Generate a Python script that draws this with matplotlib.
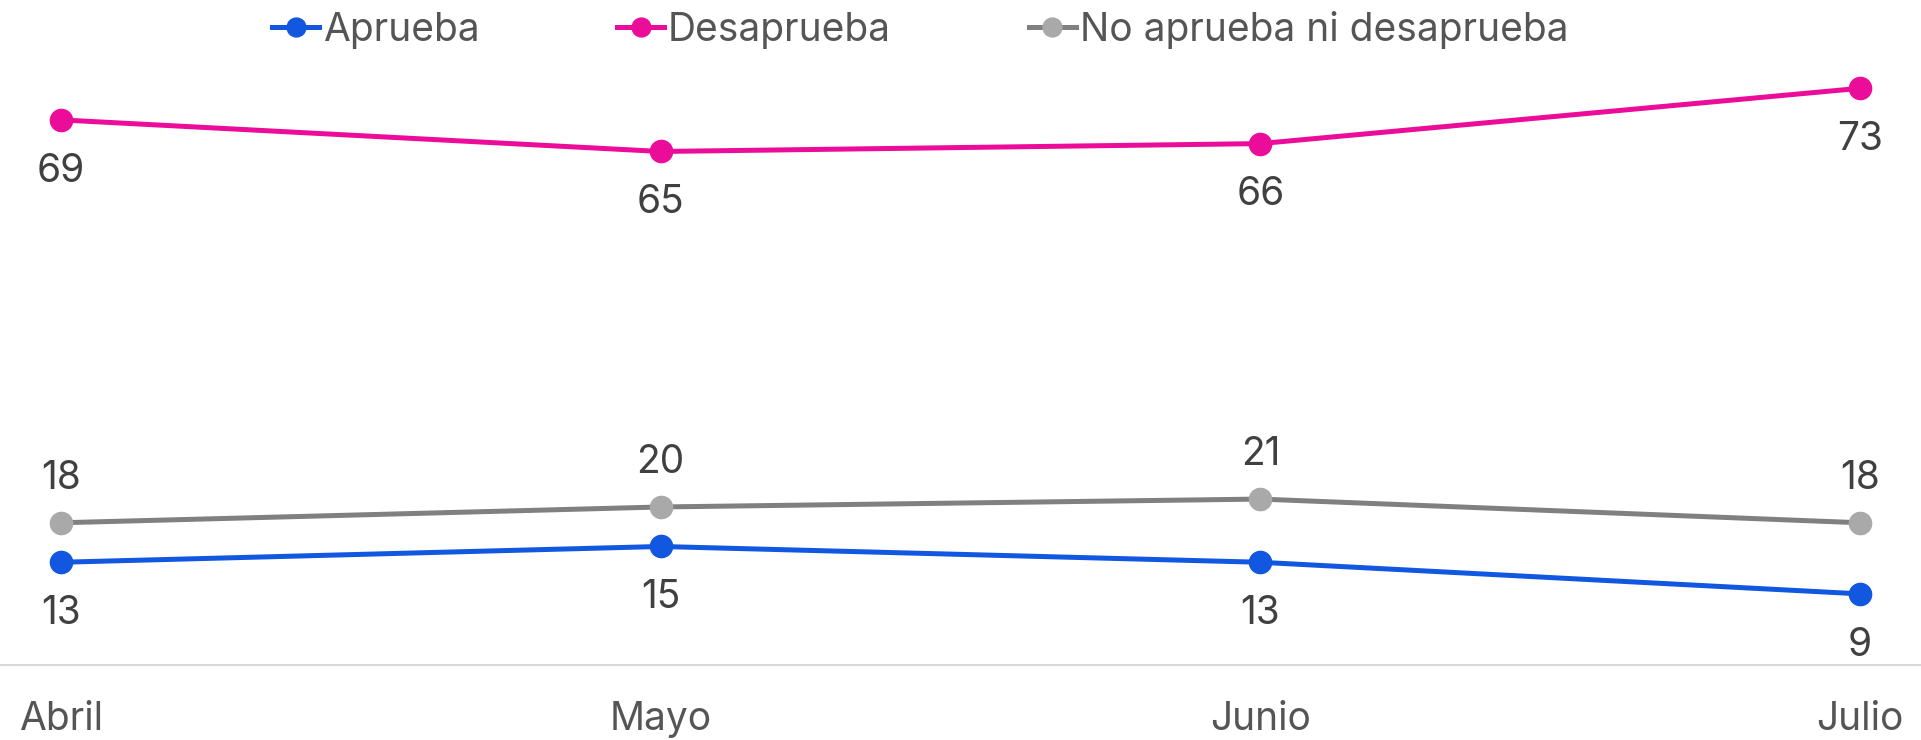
import matplotlib
matplotlib.use('Agg')
import matplotlib.pyplot as plt

meses = ['Abril', 'Mayo', 'Junio', 'Julio']
aprueba = [13, 15, 13, 9]
desaprueba = [69, 65, 66, 73]
neutral = [18, 20, 21, 18]

plt.rcParams['font.family'] = ['Inter', 'DejaVu Sans']

fig = plt.figure(figsize=(19.21, 7.40), dpi=100)
ax = fig.add_axes([0, 0.1014, 1, 0.854])

x = list(range(len(meses)))

# (valores, color linea, color marcador, etiqueta, posicion texto)
series = [
    (aprueba, '#1157E0', '#1157E0', 'Aprueba', 'below'),
    (desaprueba, '#EC0C9A', '#EC0C9A', 'Desaprueba', 'below'),
    (neutral, '#808080', '#A9A9A9', 'No aprueba ni desaprueba', 'above'),
]

for vals, lc, mc, name, pos in series:
    ax.plot(x, vals, color=lc, lw=3.6, marker='o', markersize=16,
            markerfacecolor=mc, markeredgecolor=mc, label=name, zorder=3)
    for i, v in enumerate(vals):
        off = -37 if pos == 'below' else 32
        ax.annotate(str(v), (i, v), xytext=(0, off), textcoords='offset points',
                    ha='center', va='center', fontsize=28, color='#404040')

ax.set_xlim(-0.1017, 3.1017)
ax.set_ylim(0, 80)
ax.set_xticks(x)
ax.set_xticklabels(meses, fontsize=28, color='#555555')
ax.tick_params(axis='x', length=0, pad=26)
ax.set_yticks([])
for s in ['top', 'left', 'right']:
    ax.spines[s].set_visible(False)
ax.spines['bottom'].set_color('#d9d9d9')
ax.spines['bottom'].set_linewidth(1.5)

leg = ax.legend(loc='center', ncol=3, frameon=False,
                fontsize=28, handlelength=1.2, handletextpad=0.1,
                columnspacing=3.55, markerscale=0.85)
for t in leg.get_texts():
    t.set_color('#555555')
leg.set_bbox_to_anchor((0.479, 1 - 30 / 740), transform=fig.transFigure)

fig.savefig('out.png', dpi=100)
